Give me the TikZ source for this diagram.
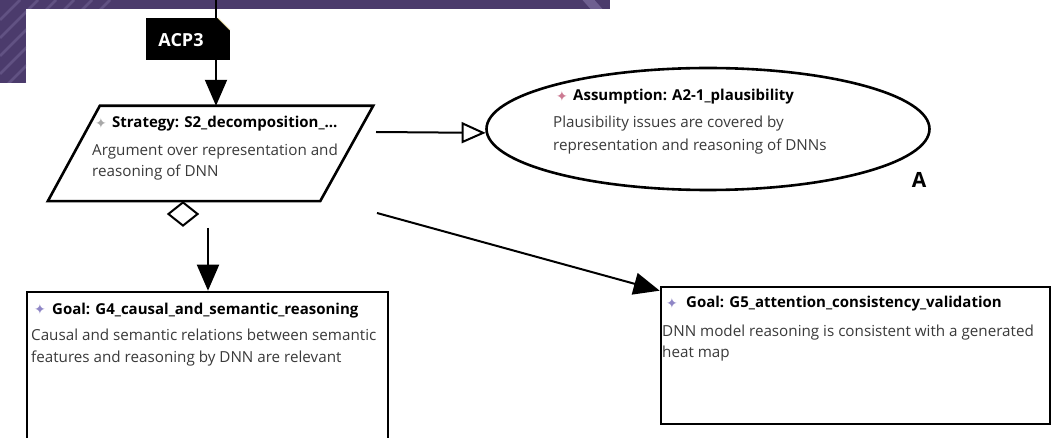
\documentclass[tikz,border=0pt]{standalone}
\usepackage{fontspec}
\setmainfont{Open Sans}
\newfontfamily\symfont{DejaVu Sans}
\usetikzlibrary{shapes.geometric,arrows.meta,calc}

\definecolor{slide}{HTML}{4B3B6C}
\definecolor{slidelight}{HTML}{7D6FA0}
\definecolor{bodygray}{HTML}{3A3A3A}
\definecolor{goalicon}{HTML}{8F86C6}
\definecolor{assmicon}{HTML}{CC7A92}
\definecolor{straticon}{HTML}{A8A8A8}
\definecolor{foldedge}{HTML}{E6D9A2}

\tikzset{
  frame/.style={draw=black, line width=2.6pt, inner sep=0pt, fill=white},
  goalbox/.style={frame, rectangle},
  stratarea/.style={rectangle, inner sep=0pt},
  stratedge/.style={draw=black, line width=2.6pt, fill=white, line join=miter},
  assmbox/.style={frame, ellipse},
  optmark/.style={draw=black, line width=2pt, diamond, inner sep=0pt, fill=white},
  acpbox/.style={inner sep=0pt,
    path picture={
      \fill[black] (path picture bounding box.south west) rectangle (path picture bounding box.north east);
      \fill[white] (path picture bounding box.north east) -- ++(-12,0) -- ++(12,12) -- cycle;
      \draw[foldedge, line width=0.8pt] ($(path picture bounding box.north east)+(-12,0)$) -- ++(12,12);
    }},
  conn/.style={draw=black, line width=2pt},
  solidtip/.style={-{Triangle[length=26pt,width=22pt]}},
  hollowtip/.style={-{Triangle[open,length=24pt,width=21pt,line width=2pt]}},
  titletext/.style={anchor=base west, inner sep=0pt, text=black,
    font=\bfseries\fontsize{15}{18}\selectfont},
  bodytext/.style={anchor=base west, inner sep=0pt, text=bodygray,
    font=\fontsize{15.2}{18}\selectfont},
  iconmark/.style={inner sep=0pt, text=#1, font=\symfont\fontsize{14}{16}\selectfont},
}

\begin{document}
\begin{tikzpicture}[x=1pt, y=-1pt]
\useasboundingbox (0,0) rectangle (1052,438);
\fill[white] (0,0) rectangle (1052,438);

% slide background showing behind the canvas
\fill[slide] (0,0) rectangle (610,9);
\fill[slide] (0,0) rectangle (26,83);
\begin{scope}
  \clip (0,0) rectangle (610,9) (0,0) rectangle (26,83);
  \foreach \s in {20,38,56,74,92,110} {
    \draw[slidelight, opacity=0.45, line width=2.5pt] (0,\s) -- (\s,0);
  }
  \draw[slidelight, opacity=0.7, line width=9pt] (585,-4) -- (600,13);
\end{scope}

% elements
\node[acpbox, minimum width=84, minimum height=42] (acp) at (188,39) {};
\node[text=white, inner sep=0pt, font=\bfseries\fontsize{18}{21}\selectfont] (acplabel) at (181,40) {ACP3};

% strategy: parallelogram drawn over its bounding area
\node[stratarea, minimum width=325, minimum height=95] (strat) at (210.5,153.5) {};
\draw[stratedge] ($(strat.north west)+(52,0)$) -- (strat.north east)
  -- ($(strat.south east)+(-53,0)$) -- (strat.south west) -- cycle;

\node[assmbox, minimum width=443, minimum height=122] (assm) at (708,129) {};
\node[optmark, minimum width=30, minimum height=24] (opt) at (183,214) {};
\node[goalbox, minimum width=361, minimum height=153] (g4) at (207.5,368.5) {};
\node[goalbox, minimum width=389, minimum height=137] (g5) at (855.5,355.5) {};

\node[font=\bfseries\fontsize{21}{24}\selectfont, inner sep=0pt, anchor=base] (alabel) at (919,187.5) {A};

% connector ends
\coordinate (feed) at (216,0);
\coordinate (toassm) at (376,132);
\coordinate (tog4) at (208,228);
\coordinate (tog5) at (377,213);

\draw[conn, solidtip] (feed) -- (feed |- strat.north);
\draw[conn, hollowtip] (toassm) -- (assm.181);
\draw[conn, solidtip] (tog4) -- (tog4 |- g4.north);
\draw[conn, solidtip] (tog5) -- ($(g5.north west)+(0,5)$);

% strategy text
\node[iconmark=straticon] (sicon) at (101,123) {✦};
\node[titletext] (stitle) at (112,128) {Strategy: S2\_decomposition\_...};
\node[bodytext] (sline1) at (92,156) {Argument over representation and};
\node[bodytext] (sline2) at (92,177) {reasoning of DNN};

% assumption text
\node[iconmark=assmicon] (aicon) at (562,96) {✦};
\node[titletext] (atitle) at (573,101) {Assumption: A2-1\_plausibility};
\node[bodytext] (aline1) at (553,128) {Plausibility issues are covered by};
\node[bodytext] (aline2) at (553,151) {representation and reasoning of DNNs};

% goal G4 text
\node[iconmark=goalicon] (g4icon) at (40,309) {✦};
\node[titletext] (g4title) at (52,314) {Goal: G4\_causal\_and\_semantic\_reasoning};
\node[bodytext] (g4line1) at (31,341) {Causal and semantic relations between semantic};
\node[bodytext] (g4line2) at (31,362) {features and reasoning by DNN are relevant};

% goal G5 text
\node[iconmark=goalicon] (g5icon) at (672,303) {✦};
\node[titletext] (g5title) at (686,308) {Goal: G5\_attention\_consistency\_validation};
\node[bodytext] (g5line1) at (662,336) {DNN model reasoning is consistent with a generated};
\node[bodytext] (g5line2) at (662,357) {heat map};
\end{tikzpicture}
\end{document}
